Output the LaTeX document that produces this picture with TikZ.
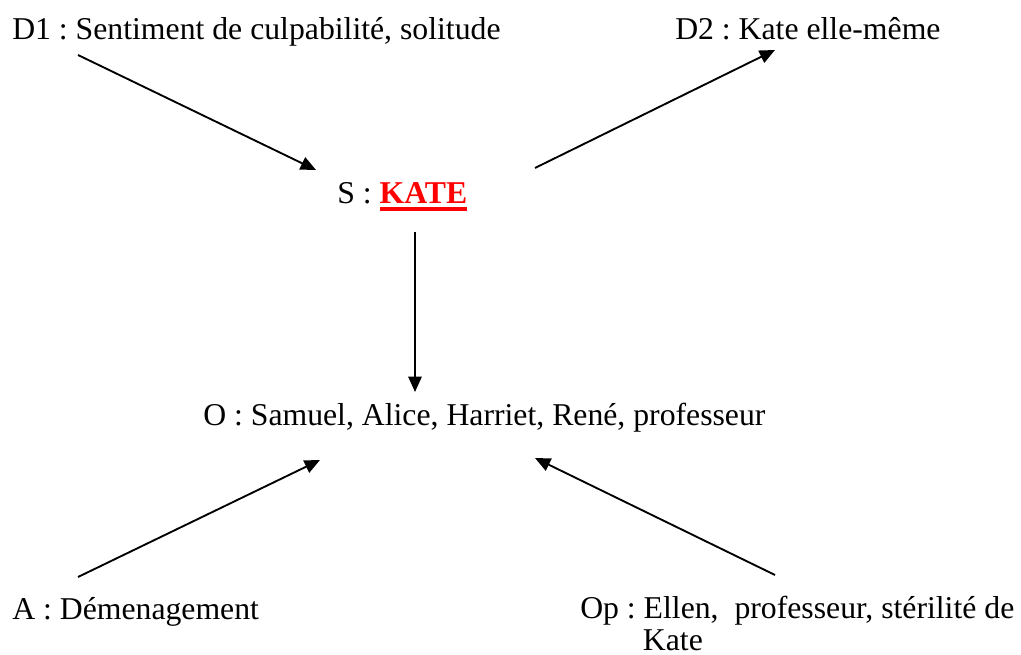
\documentclass[tikz,border=0pt]{standalone}
\usepackage{fontspec}
\setmainfont{Liberation Serif}
\usetikzlibrary{arrows.meta}
\frenchspacing
% bold red word with a heavy underline of the same colour
\newcommand\redul[1]{\setbox0\hbox{\bfseries #1}\textcolor{red}{\rlap{\rule[-5pt]{\wd0}{2.6pt}}\box0}}
\begin{document}
\begin{tikzpicture}[x=0.75pt,y=-0.75pt,
  lbl/.style={anchor=base west,inner sep=0pt,font=\fontsize{23.8}{24}\selectfont\frenchspacing},
  conn/.style={line width=1.4pt,-{Triangle[length=11.5pt,width=10pt]}}]
\useasboundingbox (0,0) rectangle (1021,655);

% actant labels
\node[lbl] (d1) at (12,40) {D1 : Sentiment de culpabilité, solitude};
\node[lbl] (d2) at (675,40) {D2 : Kate elle-même};
\node[lbl] (s) at (337,204) {S : \redul{KATE}};
\node[lbl] (o) at (203,426) {O : Samuel, Alice, Harriet, René, professeur};
\node[lbl] (a) at (12,619) {A : Démenagement};
\node[lbl,align=left] (op) at (580,650) {Op : Ellen,\ \ professeur, stérilité de\\\hspace*{47pt}Kate};

% connector ends
\coordinate (d1e) at (78,55);
\coordinate (s1) at (316,170);
\coordinate (s2) at (535,168);
\coordinate (d2e) at (775,50);
\coordinate (s3) at (415,232);
\coordinate (o3) at (415,392);
\coordinate (ae) at (78,577);
\coordinate (o4) at (320,460);
\coordinate (ope) at (775,575);
\coordinate (o5) at (535,458);

\draw[conn] (d1e) -- (s1);
\draw[conn] (s2) -- (d2e);
\draw[conn] (s3) -- (o3);
\draw[conn] (ae) -- (o4);
\draw[conn] (ope) -- (o5);
\end{tikzpicture}
\end{document}
